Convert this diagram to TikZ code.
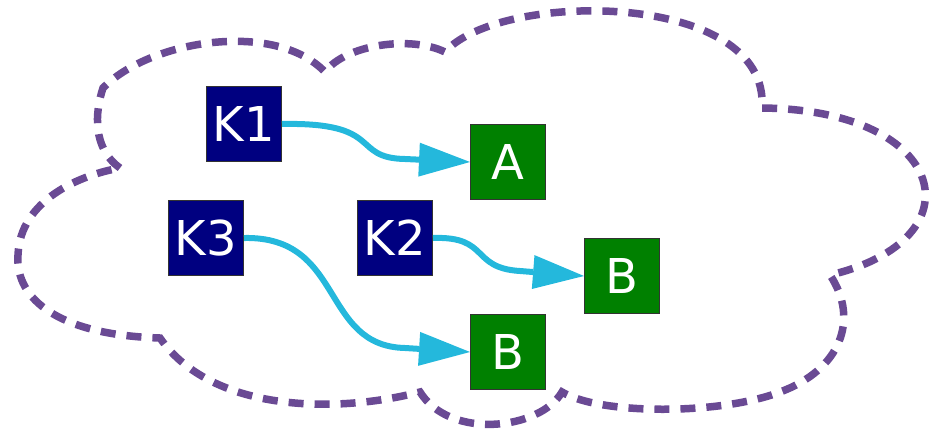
\documentclass[tikz,border=0pt]{standalone}
\usepackage{fontspec}
\setmainfont{DejaVu Sans}
\usetikzlibrary{arrows.meta}
\definecolor{cloudpurple}{RGB}{106,74,148}
\definecolor{linkblue}{RGB}{36,184,220}
\definecolor{keynavy}{RGB}{0,0,128}
\definecolor{valgreen}{RGB}{0,128,0}
\begin{document}
\begin{tikzpicture}[x=1pt,y=-1pt,
  box/.style={draw=black!80, line width=1pt, minimum width=75pt, minimum height=75pt,
    inner sep=0pt, text=white, font=\fontsize{48}{58}\selectfont},
  keybox/.style={box, fill=keynavy},
  valbox/.style={box, fill=valgreen},
  link/.style={draw=linkblue, line width=6pt,
    -{Triangle[length=51pt,width=34pt,line width=0pt]}},
  cloud/.style={draw=cloudpurple, line width=7.5pt, dash pattern=on 15pt off 11pt}]
\path[use as bounding box] (0,0) rectangle (934,434);

% dashed cloud outline
\draw[cloud] (120,168)
  .. controls (92,148) and (95,112) .. (103,88)
  .. controls (150,40) and (275,20) .. (325,72)
  .. controls (345,45) and (410,35) .. (445,52)
  .. controls (500,-10) and (770,-10) .. (762,108)
  .. controls (950,110) and (980,240) .. (830,275)
  .. controls (860,320) and (840,370) .. (780,392)
  .. controls (720,415) and (600,415) .. (562,392)
  .. controls (540,430) and (450,440) .. (420,392)
  .. controls (330,415) and (210,410) .. (160,338)
  .. controls (60,335) and (15,300) .. (18,255)
  .. controls (20,200) and (80,175) .. cycle;

% key and value boxes
\node[keybox] (k1) at (244,124) {K1};
\node[keybox] (k3) at (206,238) {K3};
\node[keybox] (k2) at (395,238) {K2};
\node[valbox] (a)  at (508,162) {A};
\node[valbox] (b1) at (622,276) {B};
\node[valbox] (b2) at (508,352) {B};

% links: curved shaft, then a short straight run into the arrow tip
\coordinate (s1) at (405,159);
\coordinate (s2) at (520,271);
\coordinate (s3) at (405,348);
\draw[link] (k1.east) .. controls (385,122) and (350,158) .. (s1) -- (a.west);
\draw[link] (k2.east) .. controls (490,236) and (470,268) .. (s2) -- (b1.west);
\draw[link] (k3.east) .. controls (345,236) and (320,346) .. (s3) -- (b2.west);
\end{tikzpicture}
\end{document}
